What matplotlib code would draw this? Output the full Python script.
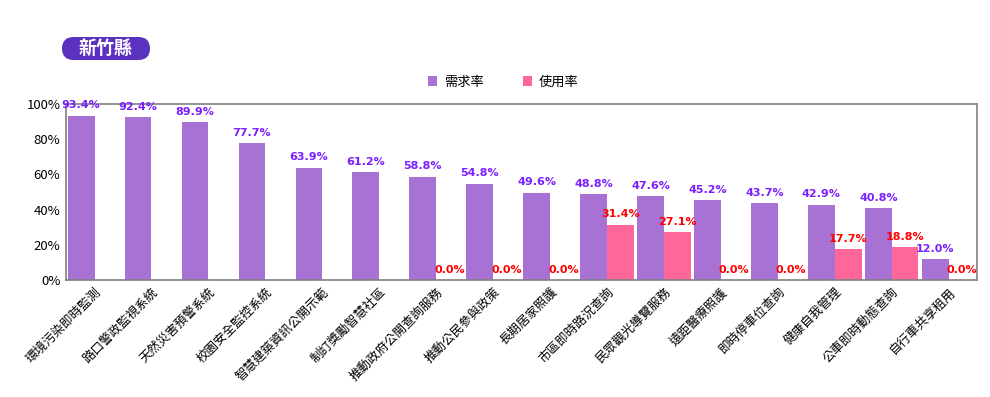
import matplotlib
matplotlib.use("Agg")
import matplotlib.pyplot as plt
from matplotlib.patches import FancyBboxPatch
import numpy as np

plt.rcParams['font.family'] = ['Noto Sans CJK TC', 'DejaVu Sans']

categories = ['環境污染即時監測', '路口警政監視系統', '天然災害預警系統', '校園安全監控系統',
              '智慧建築資訊公開示範', '制訂獎勵智慧社區', '推動政府公開查詢服務', '推動公民參與政策',
              '長期居家照護', '市區即時路況查詢', '民眾觀光導覽服務', '遠距醫療照護',
              '即時停車位查詢', '健康自我管理', '公車即時動態查詢', '自行車共享租用']
demand = [93.4, 92.4, 89.9, 77.7, 63.9, 61.2, 58.8, 54.8, 49.6, 48.8, 47.6, 45.2, 43.7, 42.9, 40.8, 12.0]
usage = [None, None, None, None, None, None, 0.0, 0.0, 0.0, 31.4, 27.1, 0.0, 0.0, 17.7, 18.8, 0.0]

c_demand = '#A872D4'
c_usage = '#FF6699'

fig = plt.figure(figsize=(9.9, 3.97), dpi=100)
ax = fig.add_axes([0.0667, 0.2947, 0.9203, 0.4433])

x = np.arange(len(categories))
w = 0.47
ax.bar(x - w / 2, demand, w, color=c_demand, label='需求率')
u_vals = [v if v is not None else 0 for v in usage]
ax.bar(x + w / 2, u_vals, w, color=c_usage, label='使用率')

for i, v in enumerate(demand):
    ax.text(x[i] - w / 2, v + 3, f'{v:.1f}%', ha='center', va='bottom',
            color='#7B1FFF', fontsize=8, fontweight='bold', family=['DejaVu Sans'])
for i, v in enumerate(usage):
    if v is None:
        continue
    ax.text(x[i] + w / 2, v + 3, f'{v:.1f}%', ha='center', va='bottom',
            color='#FF0000', fontsize=8, fontweight='bold', family=['DejaVu Sans'])

ax.set_xlim(-0.5, len(categories) - 0.5)
ax.set_ylim(0, 100)
ax.set_yticks([0, 20, 40, 60, 80, 100])
ax.set_yticklabels(['0%', '20%', '40%', '60%', '80%', '100%'], fontsize=9.5)
ax.set_xticks(x)
ax.set_xticklabels(categories, rotation=45, ha='right', rotation_mode='anchor', fontsize=9)
ax.tick_params(axis='both', length=0, pad=4)
for s in ax.spines.values():
    s.set_color('#808080')
    s.set_linewidth(1.2)

ax.legend(loc='lower center', bbox_to_anchor=(0.48, 1.02), ncol=2, frameon=False,
          fontsize=9.5, handlelength=0.7, handleheight=0.7, columnspacing=3, handletextpad=0.5)

# title badge (inches)
badge = FancyBboxPatch((0.62, 3.37), 0.88, 0.23, boxstyle='round,pad=0,rounding_size=0.115',
                       transform=fig.dpi_scale_trans, facecolor='#5B31BF', edgecolor='none')
fig.patches.append(badge)
fig.text(1.06 / 9.9, 3.485 / 3.97, '新竹縣', color='white', fontsize=13, fontweight='bold',
         ha='center', va='center')

fig.savefig('out.png', dpi=100)
